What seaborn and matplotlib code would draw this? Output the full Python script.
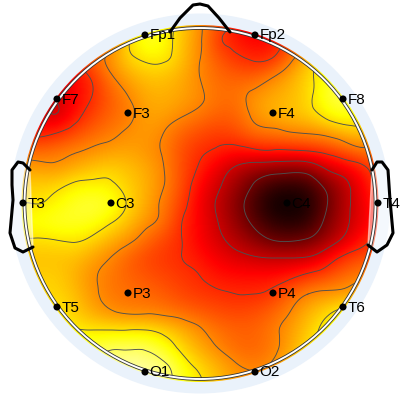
import numpy as np
import matplotlib
matplotlib.use("Agg")
import matplotlib.pyplot as plt
import matplotlib.tri as mtri
from matplotlib.patches import Circle
import pandas as pd
import seaborn as sns

# electrode sites (pixel positions of the scalp picture)
sites = ["Fp1", "Fp2", "F7", "F3", "F4", "F8", "T3", "C3", "C4", "T4", "T5", "P3", "P4", "T6", "O1", "O2"]
site_x = [145, 255, 57, 128, 273, 343, 23, 111, 287, 378, 57, 128, 273, 343, 145, 255]
site_y = [35, 35, 99, 113, 113, 99, 203, 203, 203, 203, 307, 293, 293, 307, 372, 372]

# scalp map, values on a coarse grid
grid_x = [20, 38, 56, 74, 92, 110, 128, 146, 164, 182, 200, 218, 236, 254, 272, 290, 308, 326, 344, 362, 380]
grid_y = [24, 42, 60, 78, 96, 114, 132, 150, 168, 186, 204, 222, 240, 258, 276, 294, 312, 330, 348, 366, 384]
field = [
 [.45,.45,.45,.45,.46,.50,.60,.72,.68,.62,.53,.45,.35,.30,.32,.38,.45,.52,.58,.62,.62],
 [.40,.40,.40,.42,.46,.50,.64,.72,.70,.60,.53,.41,.37,.34,.35,.42,.50,.56,.62,.66,.66],
 [.35,.35,.35,.38,.47,.54,.62,.66,.66,.60,.52,.46,.41,.385,.40,.50,.60,.66,.70,.72,.72],
 [.30,.30,.30,.33,.40,.50,.56,.60,.60,.57,.52,.48,.47,.47,.52,.57,.63,.70,.76,.76,.76],
 [.28,.28,.27,.33,.39,.46,.52,.57,.58,.56,.53,.49,.49,.54,.57,.59,.63,.72,.76,.72,.70],
 [.30,.30,.26,.35,.42,.47,.50,.56,.56,.53,.50,.47,.47,.54,.58,.60,.62,.68,.72,.68,.62],
 [.38,.36,.38,.43,.47,.50,.53,.55,.52,.47,.44,.42,.44,.49,.50,.52,.53,.55,.59,.62,.56],
 [.48,.47,.49,.51,.53,.55,.56,.54,.51,.44,.40,.38,.36,.38,.39,.39,.40,.42,.46,.50,.50],
 [.56,.55,.54,.57,.60,.62,.60,.57,.52,.44,.38,.31,.25,.21,.19,.18,.19,.27,.32,.37,.45],
 [.62,.62,.63,.67,.68,.67,.62,.58,.52,.44,.34,.27,.20,.12,.06,.04,.06,.15,.23,.33,.42],
 [.65,.65,.68,.72,.74,.72,.64,.57,.50,.42,.32,.25,.17,.08,.01,.00,.02,.12,.23,.31,.40],
 [.70,.70,.72,.72,.71,.66,.60,.54,.49,.39,.33,.26,.19,.11,.05,.03,.05,.15,.24,.31,.38],
 [.64,.64,.65,.66,.63,.58,.54,.48,.43,.39,.33,.28,.23,.18,.13,.12,.14,.20,.28,.36,.42],
 [.60,.60,.60,.60,.56,.52,.47,.43,.41,.39,.36,.32,.29,.27,.26,.26,.27,.33,.41,.44,.46],
 [.62,.62,.62,.58,.53,.50,.47,.45,.43,.41,.39,.36,.35,.35,.35,.37,.41,.44,.48,.51,.55],
 [.63,.63,.63,.60,.54,.50,.49,.48,.46,.43,.41,.40,.39,.39,.41,.47,.52,.54,.55,.58,.60],
 [.66,.66,.66,.62,.57,.53,.51,.51,.50,.48,.46,.44,.43,.44,.47,.52,.58,.63,.68,.70,.70],
 [.72,.72,.70,.66,.65,.65,.65,.65,.62,.58,.53,.49,.47,.47,.50,.55,.61,.68,.74,.76,.76],
 [.76,.76,.76,.76,.74,.77,.77,.77,.71,.63,.57,.52,.48,.47,.50,.56,.64,.70,.74,.76,.76],
 [.82,.82,.82,.82,.82,.82,.84,.82,.80,.70,.63,.58,.53,.51,.53,.60,.68,.72,.74,.76,.76],
 [.85,.85,.85,.85,.85,.85,.85,.85,.82,.72,.66,.60,.55,.53,.55,.62,.68,.72,.74,.76,.76],
]
levels = [.13, .26, .39, .52, .65, .78]

# head outline
nose_x = [170, 180, 193, 200, 208, 219, 230]
nose_y = [32, 18, 5, 4, 6, 18, 32]
ear_l_x = [30, 23, 18, 12, 12, 13, 10, 15, 23, 33]
ear_l_y = [170, 163, 162, 170, 185, 200, 233, 248, 252, 247]
ear_r_x = [372, 377, 382, 388, 389, 390, 393, 387, 377, 368]
ear_r_y = [170, 162, 162, 170, 185, 200, 233, 245, 252, 245]

sns.set_theme(style="white")
plt.rcParams["font.family"] = ["Liberation Sans", "DejaVu Sans"]

fig = plt.figure(figsize=(4, 4), dpi=100)
ax = fig.add_axes([0, 0, 1, 1])
ax.set_axis_off()
cx, cy = 200, 203.5

ax.add_patch(Circle((cx, cy), 190, fc="#eaf2fb", ec="none", zorder=0))

Z = np.array(field)
step = 18
im = ax.imshow(Z, cmap="hot", vmin=0, vmax=0.92, interpolation="bicubic", aspect="auto",
               extent=(grid_x[0] - step / 2, grid_x[-1] + step / 2, grid_y[-1] + step / 2, grid_y[0] - step / 2),
               zorder=1)
clip = Circle((cx, cy), 178.5, transform=ax.transData)
im.set_clip_path(clip)

X, Y = np.meshgrid(grid_x, grid_y)
tri = mtri.Triangulation(X.ravel(), Y.ravel())
fine_tri, fine_z = mtri.UniformTriRefiner(tri).refine_field(Z.ravel(), subdiv=3)
cs = ax.tricontour(fine_tri, fine_z, levels=levels, colors="#4d5050", linewidths=0.65, zorder=2)
cs.set_clip_path(Circle((cx, cy), 176, transform=ax.transData))

ax.add_patch(Circle((cx, cy), 175.5, fc="none", ec="#333333", lw=2.6, zorder=3))
ax.add_patch(Circle((cx, cy), 175.5, fc="none", ec="white", lw=1.4, zorder=3.1))

ax.fill(ear_l_x, ear_l_y, color="white", alpha=0.5, zorder=2.5)
ax.fill(ear_r_x, ear_r_y, color="white", alpha=0.5, zorder=2.5)
for xs, ys in ((nose_x, nose_y), (ear_l_x, ear_l_y), (ear_r_x, ear_r_y)):
    ax.plot(xs, ys, color="black", lw=2.2, solid_capstyle="round", zorder=4)

df = pd.DataFrame({"x": site_x, "y": site_y, "site": sites})
sns.scatterplot(data=df, x="x", y="y", s=26, color="black", edgecolor="none", ax=ax, zorder=5, legend=False)
for name, x, y in zip(sites, site_x, site_y):
    ax.text(x + 4.5, y + 0.5, name, fontsize=11, color="black", ha="left", va="center", zorder=6)

ax.set_xlim(0, 400)
ax.set_ylim(400, 0)
ax.set_xlabel("")
ax.set_ylabel("")
fig.savefig("out.png", dpi=100)
